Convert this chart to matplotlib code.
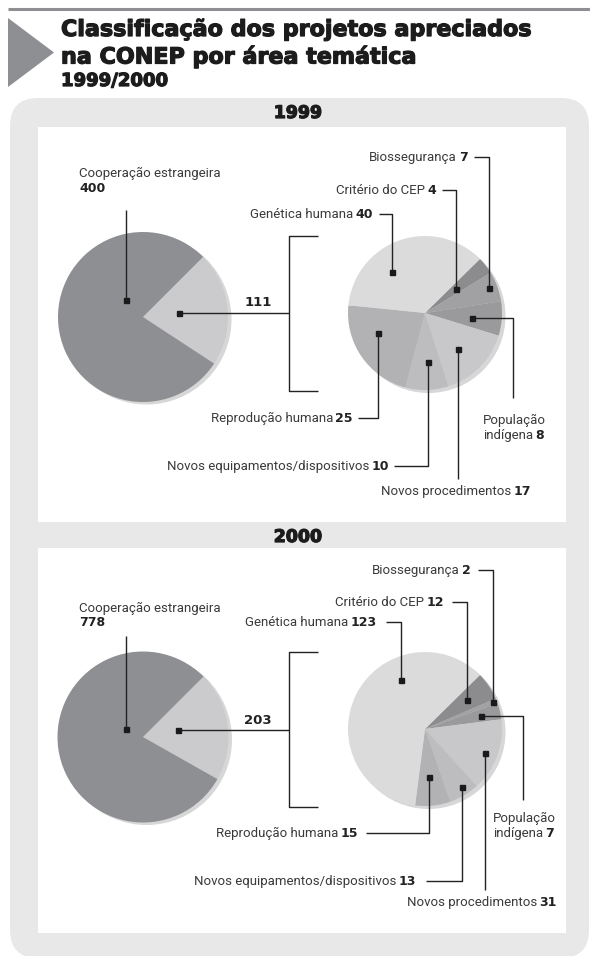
import matplotlib
matplotlib.use("Agg")
import matplotlib.pyplot as plt
import matplotlib.patheffects as pe
from matplotlib.patches import FancyBboxPatch, Rectangle, Polygon, Circle
import numpy as np

plt.rcParams['font.family'] = ['Roboto', 'DejaVu Sans']

# ---------------- data ----------------
title_line1 = "Classificação dos projetos apreciados"
title_line2 = "na CONEP por área temática"
subtitle = "1999/2000"
years = ["1999", "2000"]
main_category = "Cooperação estrangeira"
main_values = [400, 778]
theme_categories = ["Critério do CEP", "Biossegurança", "População indígena",
                    "Novos procedimentos", "Novos equipamentos/dispositivos",
                    "Reprodução humana", "Genética humana"]
theme_values_1999 = [4, 7, 8, 17, 10, 25, 40]
theme_values_2000 = [12, 2, 7, 31, 13, 15, 123]
theme_values = {"1999": theme_values_1999, "2000": theme_values_2000}

# ---------------- style / layout ----------------
W, H = 590, 956
GRAY_DARK = "#8e8f92"
GRAY_LIGHT = "#cbcbcd"
PANEL = "#e8e8e9"
SHADOW = "#d7d7d8"
INK = "#222222"
TXT = "#3a3a3a"
HEAVY = ["DejaVu Sans"]
theme_colors = ["#8c8c8e", "#a1a1a3", "#9a9a9c", "#c8c8ca", "#bdbdbf", "#b2b2b4", "#dbdbdc"]
LBL = 9.5
NUM = 9.0
LW = 1.0
BOLDEN = [pe.withStroke(linewidth=0.9, foreground="#1c1c1c")]

left_pie = {"1999": dict(cx=143, cy=317, r=85), "2000": dict(cx=143, cy=737, r=85.5)}
right_pie = {"1999": dict(cx=425, cy=313, r=77), "2000": dict(cx=425, cy=729, r=77)}
year_header = {"1999": 118, "2000": 542}
white_box = {"1999": (127, 522), "2000": (548, 933)}
main_text = {"1999": (79, 177, 192, 210), "2000": (79, 612, 626, 636)}
total_text = {"1999": (258, 306), "2000": (258, 724)}
bracket_x, bracket_tick = 289, 318
# marker placement inside wedges: (fraction of angle, fraction of radius)
left_marks = {"1999": [(0.32, 0.28), (0.5, 0.43)], "2000": [(0.39, 0.22), (0.54, 0.42)]}
right_marks = {
    "1999": [(0.52, 0.51), (0.54, 0.89), (0.44, 0.61), (0.45, 0.63), (0.57, 0.64), (0.36, 0.66), (0.65, 0.69)],
    "2000": [(0.54, 0.66), (0.5, 0.95), (0.46, 0.75), (0.47, 0.84), (0.57, 0.89), (0.45, 0.63), (0.33, 0.71)],
}
labels = {
    "1999": [dict(kind="up", tx=436, ty=194, gap=6),
             dict(kind="up", tx=468, ty=161, gap=6),
             dict(kind="right", tx=483, ty=424, xend=513, yend=398),
             dict(kind="below", tx=531, ty=495, yend=479),
             dict(kind="down", tx=389, ty=470, gap=5),
             dict(kind="down", tx=353, ty=422, gap=5),
             dict(kind="up", tx=373, ty=218, gap=6)],
    "2000": [dict(kind="up", tx=444, ty=606, gap=8),
             dict(kind="up", tx=471, ty=574, gap=7),
             dict(kind="right", tx=493, ty=822, xend=523, yend=800),
             dict(kind="below", tx=557, ty=906, yend=890),
             dict(kind="down", tx=416, ty=885, gap=10),
             dict(kind="down", tx=358, ty=837, gap=8),
             dict(kind="up", tx=377, ty=626, gap=9)],
}

fig = plt.figure(figsize=(W / 100, H / 100), dpi=100)
fig.patch.set_facecolor("white")
ax = fig.add_axes([0, 0, 1, 1])
renderer = fig.canvas.get_renderer()


def Y(y):
    return H - y


def rich(x, y, parts, ha="left", gap=2.2):
    seq = list(parts) if ha == "left" else list(reversed(parts))
    cur = x
    for s, bold in seq:
        if bold:
            t = ax.text(cur, Y(y), s, ha=ha, va="baseline", fontsize=NUM, family=HEAVY,
                        fontweight="bold", color=INK, zorder=10)
        else:
            t = ax.text(cur, Y(y), s, ha=ha, va="baseline", fontsize=LBL,
                        color=TXT, zorder=10)
        w = t.get_window_extent(renderer).width
        cur = cur + (w + gap) if ha == "left" else cur - (w + gap)


def line(xs, ys):
    ax.plot(xs, [Y(v) for v in ys], color=INK, lw=LW, solid_capstyle="butt", zorder=8)


def marker(x, y):
    ax.plot([x], [Y(y)], marker="s", ms=3.6, color="#1a1a1a", zorder=9, lw=0)


def mark_pos(w, cx, cy, r, t, f):
    a = np.deg2rad(w.theta1 + t * (w.theta2 - w.theta1))
    return cx + f * r * np.cos(a), cy - f * r * np.sin(a)


# header
ax.plot([8, W], [Y(8.5), Y(8.5)], color=GRAY_DARK, lw=2.2, solid_capstyle="butt")
ax.add_patch(Polygon([(8, Y(18)), (54, Y(52.5)), (8, Y(87))], closed=True, color=GRAY_DARK, lw=0))
for txt, yy, fs in [(title_line1, 36, 16.0), (title_line2, 63.5, 16.0), (subtitle, 86, 13.0)]:
    ax.text(61, Y(yy), txt, fontsize=fs, family=HEAVY, fontweight="bold", color="#1c1c1c",
            va="baseline", path_effects=BOLDEN)

# panels
ax.add_patch(FancyBboxPatch((10, Y(958)), 579, 860, boxstyle="round,pad=0,rounding_size=28",
                            fc=PANEL, ec="none", zorder=0))
for yr in years:
    top, bot = white_box[yr]
    ax.add_patch(Rectangle((38, Y(bot)), 528, bot - top, fc="white", ec="none", zorder=1))
    ax.text(298, Y(year_header[yr]), yr, ha="center", va="baseline", fontsize=12.5,
            family=HEAVY, fontweight="bold", color="#1c1c1c", path_effects=BOLDEN)

for i, yr in enumerate(years):
    vals = theme_values[yr]
    other_total = sum(vals)
    lp, rp = left_pie[yr], right_pie[yr]

    # left pie: other themes vs foreign cooperation
    ax.add_patch(Circle((lp["cx"] + 3.5, Y(lp["cy"] + 2.5)), lp["r"], fc=SHADOW, ec="none", zorder=2))
    lw_, _ = ax.pie([other_total, main_values[i]], colors=[GRAY_LIGHT, GRAY_DARK], startangle=45,
                    counterclock=False, center=(lp["cx"], Y(lp["cy"])), radius=lp["r"], frame=True,
                    wedgeprops=dict(linewidth=0))
    for w in lw_:
        w.set_zorder(3)
    (tm, fm), (to, fo) = left_marks[yr]
    mx, my = mark_pos(lw_[1], lp["cx"], lp["cy"], lp["r"], tm, fm)
    ox, oy = mark_pos(lw_[0], lp["cx"], lp["cy"], lp["r"], to, fo)
    tx, ty1, ty2, ytop = main_text[yr]
    rich(tx, ty1, [(main_category, False)])
    rich(tx, ty2, [(str(main_values[i]), True)])
    line([mx, mx], [my, ytop])
    marker(mx, my)
    line([ox, bracket_x], [oy, oy])
    marker(ox, oy)
    btop, bbot = rp["cy"] - rp["r"], rp["cy"] + rp["r"] + 0.5
    line([bracket_tick, bracket_x, bracket_x, bracket_tick], [btop, btop, bbot, bbot])
    gx, gy = total_text[yr]
    ax.text(gx, Y(gy), str(other_total), ha="center", va="baseline", fontsize=NUM + 0.5,
            family=HEAVY, fontweight="bold", color=INK)

    # right pie: breakdown by theme
    ax.add_patch(Circle((rp["cx"] + 3.5, Y(rp["cy"] + 3)), rp["r"], fc=SHADOW, ec="none", zorder=2))
    rw, _ = ax.pie(vals, colors=theme_colors, startangle=44.5, counterclock=False,
                   center=(rp["cx"], Y(rp["cy"])), radius=rp["r"], frame=True,
                   wedgeprops=dict(linewidth=0))
    for w in rw:
        w.set_zorder(3)
    for k, (cat, v) in enumerate(zip(theme_categories, vals)):
        t, f = right_marks[yr][k]
        px, py = mark_pos(rw[k], rp["cx"], rp["cy"], rp["r"], t, f)
        L = labels[yr][k]
        kind = L["kind"]
        if kind in ("up", "down"):
            ly = L["ty"] - 4
            line([L["tx"] + L["gap"], px, px], [ly, ly, py])
            rich(L["tx"], L["ty"], [(cat, False), (str(v), True)], ha="right")
        elif kind == "below":
            line([px, px], [py, L["yend"]])
            rich(L["tx"], L["ty"], [(cat, False), (str(v), True)], ha="right")
        elif kind == "right":
            line([px, L["xend"], L["xend"]], [py, py, L["yend"]])
            first, second = cat.split(" ", 1)
            rich(L["tx"], L["ty"], [(first, False)])
            rich(L["tx"], L["ty"] + 15, [(second, False), (str(v), True)])
        marker(px, py)

ax.set_xlim(0, W)
ax.set_ylim(0, H)
ax.set_aspect("auto")
ax.axis("off")
fig.savefig("out.png", dpi=100, facecolor="white")
